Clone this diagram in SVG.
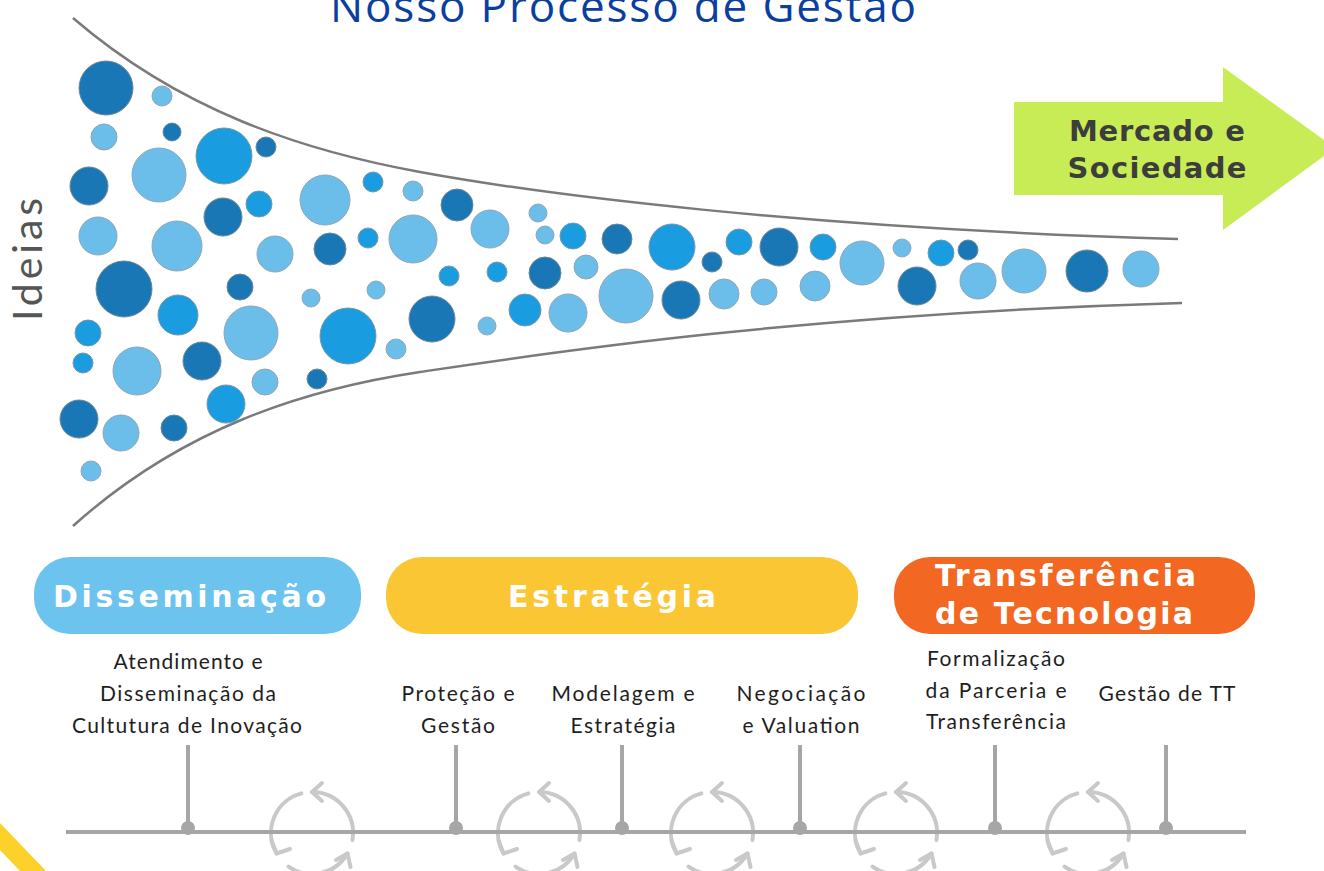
<svg xmlns="http://www.w3.org/2000/svg" width="1324" height="871" viewBox="0 0 1324 871">
<defs>
<style>
.d{fill:#1a77b5;stroke:#6f8796;stroke-width:1}
.m{fill:#1a9ce0;stroke:#7a96a8;stroke-width:1}
.l{fill:#6bbeea;stroke:#8fa6b4;stroke-width:1}
.funnel{fill:none;stroke:#7a7a7a;stroke-width:2.5}
.lbl{font-family:"Lato","Noto Sans",sans-serif;font-size:21px;fill:#1e1e1e;text-anchor:middle}
.pill{font-family:"DejaVu Sans","Open Sans",sans-serif;font-weight:700;font-size:30px;fill:#ffffff}
.stem{stroke:#a6a6a6;stroke-width:4}
.dot{fill:#a6a6a6}
.cyc{fill:none;stroke:#c9c9c9;stroke-width:4;stroke-linecap:round;stroke-linejoin:round}
</style>
<g id="cycleIcon" class="cyc">
<path d="M40.4,7.1 A41,41 0 0 0 0,-41"/>
<path d="M10,-50 L0,-41 L10,-32"/>
<path d="M-10.6,-39.6 A41,41 0 0 0 -35.5,20.5"/>
<path d="M-40.5,7.2 L-35.5,20.5 L-22,16"/>
<path d="M-23.5,33.6 A41,41 0 0 0 35.5,20.5"/>
<path d="M24,27 L35.5,20.5 L38.5,34"/>
</g>
</defs>
<rect width="1324" height="871" fill="#ffffff"/>

<g id="title">
<text x="330" y="22" font-family="'Open Sans','Noto Sans',sans-serif" font-size="44" fill="#0b3f9f" textLength="586">Nosso Processo de Gestão</text>
</g>

<g id="ideias">
<text transform="translate(42,321) rotate(-90)" font-family="Lato,'Noto Sans',sans-serif" font-size="41" fill="#555555" textLength="123">Ideias</text>
</g>

<g id="funnel">
<path class="funnel" d="M73,18 C180,110 300,150 420,172 S800,228 1178,239"/>
<path class="funnel" d="M73,526 C180,430 300,390 420,372 S800,314 1182,303"/>
</g>

<g id="bubbles">
<circle class="d" cx="106" cy="88" r="27"/>
<circle class="l" cx="162" cy="96" r="10"/>
<circle class="l" cx="104" cy="137" r="13"/>
<circle class="d" cx="172" cy="132" r="9"/>
<circle class="m" cx="224" cy="156" r="28"/>
<circle class="d" cx="266" cy="147" r="10"/>
<circle class="l" cx="159" cy="175" r="27"/>
<circle class="d" cx="89" cy="186" r="19"/>
<circle class="d" cx="223" cy="217" r="19"/>
<circle class="m" cx="259" cy="204" r="13"/>
<circle class="l" cx="98" cy="236" r="19"/>
<circle class="l" cx="177" cy="246" r="25"/>
<circle class="l" cx="275" cy="254" r="18"/>
<circle class="d" cx="124" cy="289" r="28"/>
<circle class="d" cx="240" cy="287" r="13"/>
<circle class="l" cx="311" cy="298" r="9"/>
<circle class="m" cx="178" cy="315" r="20"/>
<circle class="l" cx="251" cy="333" r="27"/>
<circle class="m" cx="88" cy="333" r="13"/>
<circle class="m" cx="83" cy="363" r="10"/>
<circle class="l" cx="137" cy="371" r="24"/>
<circle class="d" cx="202" cy="361" r="19"/>
<circle class="l" cx="265" cy="382" r="13"/>
<circle class="m" cx="226" cy="404" r="19"/>
<circle class="d" cx="79" cy="419" r="19"/>
<circle class="l" cx="121" cy="433" r="18"/>
<circle class="d" cx="174" cy="428" r="13"/>
<circle class="l" cx="91" cy="471" r="10"/>
<circle class="d" cx="317" cy="379" r="10"/>
<circle class="l" cx="325" cy="200" r="25"/>
<circle class="m" cx="373" cy="182" r="10"/>
<circle class="l" cx="413" cy="191" r="10"/>
<circle class="d" cx="457" cy="205" r="16"/>
<circle class="l" cx="413" cy="239" r="24"/>
<circle class="l" cx="490" cy="229" r="19"/>
<circle class="l" cx="538" cy="213" r="9"/>
<circle class="l" cx="545" cy="235" r="9"/>
<circle class="m" cx="573" cy="236" r="13"/>
<circle class="d" cx="330" cy="249" r="16"/>
<circle class="m" cx="368" cy="238" r="10"/>
<circle class="m" cx="449" cy="276" r="10"/>
<circle class="m" cx="497" cy="272" r="10"/>
<circle class="d" cx="545" cy="273" r="16"/>
<circle class="l" cx="586" cy="267" r="12"/>
<circle class="l" cx="376" cy="290" r="9"/>
<circle class="m" cx="348" cy="336" r="28"/>
<circle class="d" cx="432" cy="319" r="23"/>
<circle class="l" cx="487" cy="326" r="9"/>
<circle class="m" cx="525" cy="310" r="16"/>
<circle class="l" cx="568" cy="313" r="19"/>
<circle class="l" cx="396" cy="349" r="10"/>
<circle class="d" cx="617" cy="239" r="15"/>
<circle class="m" cx="672" cy="247" r="23"/>
<circle class="d" cx="712" cy="262" r="10"/>
<circle class="m" cx="739" cy="242" r="13"/>
<circle class="d" cx="779" cy="247" r="19"/>
<circle class="m" cx="823" cy="247" r="13"/>
<circle class="l" cx="862" cy="263" r="22"/>
<circle class="l" cx="902" cy="248" r="9"/>
<circle class="l" cx="626" cy="296" r="27"/>
<circle class="d" cx="681" cy="300" r="19"/>
<circle class="l" cx="724" cy="294" r="15"/>
<circle class="l" cx="764" cy="292" r="13"/>
<circle class="l" cx="815" cy="286" r="15"/>
<circle class="m" cx="941" cy="253" r="13"/>
<circle class="d" cx="968" cy="250" r="10"/>
<circle class="d" cx="917" cy="286" r="19"/>
<circle class="l" cx="978" cy="281" r="18"/>
<circle class="l" cx="1024" cy="271" r="22"/>
<circle class="d" cx="1087" cy="271" r="21"/>
<circle class="l" cx="1141" cy="269" r="18"/>
</g>

<g id="mercado">
<polygon points="1014,102 1223,102 1223,67 1335,148 1223,230 1223,195 1014,195" fill="#c8ec55"/>
<text x="1157" y="141" text-anchor="middle" font-family="'DejaVu Sans','Open Sans',sans-serif" font-weight="700" font-size="29" fill="#3d3d3d" textLength="176">Mercado e</text>
<text x="1157" y="178" text-anchor="middle" font-family="'DejaVu Sans','Open Sans',sans-serif" font-weight="700" font-size="29" fill="#3d3d3d" textLength="179">Sociedade</text>
</g>

<g id="disseminacao">
<rect x="34" y="557" width="327" height="77" rx="36" fill="#6cc3ed"/>
<text class="pill" x="53" y="607" textLength="273">Disseminação</text>
</g>
<g id="estrategia">
<rect x="386" y="557" width="472" height="77" rx="36" fill="#fbc633"/>
<text class="pill" x="508" y="607" textLength="208">Estratégia</text>
</g>
<g id="transferencia">
<rect x="894" y="557" width="361" height="77" rx="36" fill="#f26722"/>
<text class="pill" x="935" y="586" textLength="261">Transferência</text>
<text class="pill" x="935" y="624" textLength="258">de Tecnologia</text>
</g>

<g id="labels">
<text class="lbl" x="188" y="669" textLength="149">Atendimento e</text>
<text class="lbl" x="188" y="701" textLength="176">Disseminação da</text>
<text class="lbl" x="187" y="733" textLength="230">Cultutura de Inovação</text>
<text class="lbl" x="458" y="701" textLength="113">Proteção e</text>
<text class="lbl" x="458" y="733" textLength="74">Gestão</text>
<text class="lbl" x="623" y="701" textLength="143">Modelagem e</text>
<text class="lbl" x="623" y="733" textLength="105">Estratégia</text>
<text class="lbl" x="801" y="701" textLength="129">Negociação</text>
<text class="lbl" x="801" y="733" textLength="117">e Valuation</text>
<text class="lbl" x="996" y="666" textLength="138">Formalização</text>
<text class="lbl" x="996" y="698" textLength="141">da Parceria e</text>
<text class="lbl" x="996" y="729" textLength="140">Transferência</text>
<text class="lbl" x="1167" y="701" textLength="137">Gestão de TT</text>
</g>

<g id="cycles">
<use href="#cycleIcon" x="312" y="833"/>
<use href="#cycleIcon" x="539" y="833"/>
<use href="#cycleIcon" x="712" y="833"/>
<use href="#cycleIcon" x="896" y="833"/>
<use href="#cycleIcon" x="1088" y="833"/>
</g>

<g id="connectors">
<line class="stem" x1="66" y1="832" x2="1246" y2="832"/>
<line class="stem" x1="188" y1="745" x2="188" y2="828"/>
<line class="stem" x1="456" y1="745" x2="456" y2="828"/>
<line class="stem" x1="622" y1="745" x2="622" y2="828"/>
<line class="stem" x1="800" y1="745" x2="800" y2="828"/>
<line class="stem" x1="995" y1="745" x2="995" y2="828"/>
<line class="stem" x1="1166" y1="745" x2="1166" y2="828"/>
<circle class="dot" cx="188" cy="828" r="7"/>
<circle class="dot" cx="456" cy="828" r="7"/>
<circle class="dot" cx="622" cy="828" r="7"/>
<circle class="dot" cx="800" cy="828" r="7"/>
<circle class="dot" cx="995" cy="828" r="7"/>
<circle class="dot" cx="1166" cy="828" r="7"/>
</g>

<g id="corner">
<polygon points="0,823 46,871 20,871 0,850" fill="#fcd12a"/>
</g>
</svg>
